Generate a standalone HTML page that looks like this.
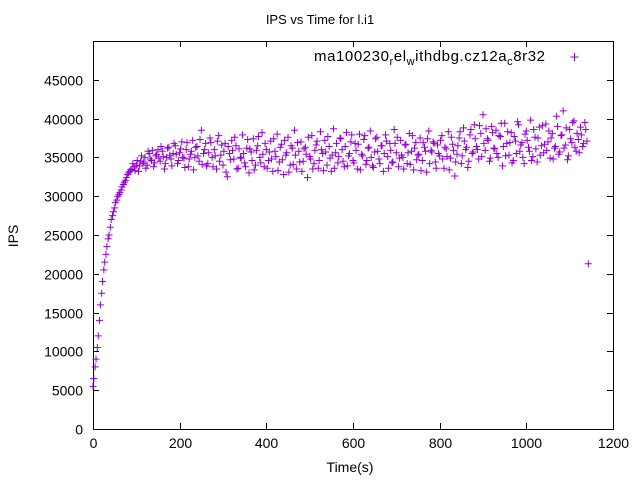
<!DOCTYPE html>
<html><head><meta charset="utf-8"><style>
body{margin:0;background:#fff}
svg{display:block;font-family:"Liberation Sans",sans-serif}
</style></head><body>
<svg id="chart" width="640" height="480" xmlns="http://www.w3.org/2000/svg">
<rect width="640" height="480" fill="#fff"/>
<text x="320" y="24" font-size="13" text-anchor="middle">IPS vs Time for l.i1</text>
<text transform="translate(18,236) rotate(-90)" font-size="14" text-anchor="middle">IPS</text>
<text x="350" y="472" font-size="14" text-anchor="middle">Time(s)</text>
<g id="axes"></g>
<g id="pts"></g>
<g>
<text x="314" y="61" font-size="15" textLength="231" lengthAdjust="spacing">ma100230<tspan font-size="11" dy="4">r</tspan><tspan dy="-4">el</tspan><tspan font-size="11" dy="4">w</tspan><tspan dy="-4">ithdbg.cz12a</tspan><tspan font-size="11" dy="4">c</tspan><tspan dy="-4">8r32</tspan></text>
<path d="M570.5,57h8M574.5,53v8" stroke="#9400d3" stroke-width="1"/>
</g>
</svg>
<script>
const xTicks=[0,200,400,600,800,1000,1200];
const yTicks=[0,5000,10000,15000,20000,25000,30000,35000,40000,45000];
const times=[0,5,10,15,20,25,30,35,40,45,50,55,60,65,70,75,80,85,90,95,100,105,110,115,120,125,130,135,140,145,150,155,160,165,170,175,180,185,190,195,200,205,210,215,220,225,230,235,240,245,250,255,260,265,270,275,280,285,290,295,300,305,310,315,320,325,330,335,340,345,350,355,360,365,370,375,380,385,390,395,400,405,410,415,420,425,430,435,440,445,450,455,460,465,470,475,480,485,490,495,500,505,510,515,520,525,530,535,540,545,550,555,560,565,570,575,580,585,590,595,600,605,610,615,620,625,630,635,640,645,650,655,660,665,670,675,680,685,690,695,700,705,710,715,720,725,730,735,740,745,750,755,760,765,770,775,780,785,790,795,800,805,810,815,820,825,830,835,840,845,850,855,860,865,870,875,880,885,890,895,900,905,910,915,920,925,930,935,940,945,950,955,960,965,970,975,980,985,990,995,1000,1005,1010,1015,1020,1025,1030,1035,1040,1045,1050,1055,1060,1065,1070,1075,1080,1085,1090,1095,1100,1105,1110,1115,1120,1125,1130,1135,1140,1143];
const ipsK=[5.5,8,10.5,14,17.5,20.5,22.5,24.5,26,27.5,28.5,29.5,30.2,30.8,31.5,32,32.8,33.2,33.5,33.8,34,33.2,34.5,34.2,35,34,35.5,34.6,33.8,35.2,36,34.5,35.8,33.5,35,36.3,34.8,35.5,36.5,34.2,35.6,37,34.9,36,33.8,35.4,37.2,35,36.4,34.5,38.5,35.5,36.8,34.2,37.5,35,36,33.5,37.8,35.3,34,36.8,32.5,35.5,37.2,34.8,36.5,33.6,35,37.9,34.3,36.2,33,35.7,37.4,34,36.5,35,38.2,33.8,36,34.6,37.1,33.2,35.8,38,34.4,36.7,32.8,35.3,37.6,34,36.2,38.5,33.5,35.8,37,34.5,36.3,32.4,35.1,37.8,34.2,36.6,33.6,38.3,35.5,37.2,34,36.4,33.2,38.7,35.6,34.3,37.5,36,33.8,38.2,35.2,37,34.6,36.8,33.5,38,35.4,37.3,34.1,36.2,38.4,33.9,35.7,37.6,34.8,36.5,33.2,37.9,35.1,36.8,34.3,38.6,35.6,33.8,37.2,35,36.6,34.2,38.1,35.8,33.4,36.9,35.3,37.5,34.6,36.3,33.1,38.4,35.9,37,34.4,36.6,35.2,37.8,33.6,36.1,38.3,34.9,36.7,32.6,35.4,37.5,34.2,38.8,36,33.7,37.9,35.5,39.2,36.4,34.8,38.1,40.5,35.9,37.4,34.5,39,36.2,38.5,35,37.7,33.9,39.4,36.8,35.3,38.2,34.6,37.1,39.6,35.8,36.9,34.2,38.4,36.3,39.8,35.1,37.6,34.4,38.9,36.5,35.6,39.3,37,34.9,38.1,36.2,40.3,35.4,37.8,41,36.6,34.7,38.6,36.9,39.7,35.8,37.3,38.9,36.4,39.5,37.1,21.3];
const times2=[2,7,12,17,22,27,32,37,42,47,52,57,62,67,72,77,82,87,92,97,102,107,112,117,122,127,132,137,142,147,152,157,162,167,172,177,182,187,192,197,202,207,212,217,222,227,232,237,242,247,252,257,262,267,272,277,282,287,292,297,302,307,312,317,322,327,332,337,342,347,352,357,362,367,372,377,382,387,392,397,402,407,412,417,422,427,432,437,442,447,452,457,462,467,472,477,482,487,492,497,502,507,512,517,522,527,532,537,542,547,552,557,562,567,572,577,582,587,592,597,602,607,612,617,622,627,632,637,642,647,652,657,662,667,672,677,682,687,692,697,702,707,712,717,722,727,732,737,742,747,752,757,762,767,772,777,782,787,792,797,802,807,812,817,822,827,832,837,842,847,852,857,862,867,872,877,882,887,892,897,902,907,912,917,922,927,932,937,942,947,952,957,962,967,972,977,982,987,992,997,1002,1007,1012,1017,1022,1027,1032,1037,1042,1047,1052,1057,1062,1067,1072,1077,1082,1087,1092,1097,1102,1107,1112,1117,1122,1127,1132,1137];
const ipsK2=[6.5,9,12,16,19,21.5,23.5,25,27,28,29.2,30,30.5,31.2,31.8,32.4,33,33.4,34.2,33.3,34.6,33.9,35.2,34.4,33.6,35.8,34.8,35.9,34.3,35.4,34.9,36.4,35.1,34.2,36.2,35.3,33.9,36.8,35.4,34.6,36.1,35,33.7,36.9,34.8,35.8,33.4,36.3,35.2,37.3,34.1,36,33.9,35.6,36.9,33.8,35.2,37.1,34.5,36.6,35.8,33.1,36.4,34.7,35.9,37.6,33.5,36.1,34.9,35.5,33.8,37.3,36.1,34.6,33.4,35.9,37.7,34.3,35.4,36.8,33.6,35.7,34.8,37.4,35.1,33.3,36.3,34.7,37.2,35.6,33.1,36.5,34.1,35.3,36.9,34.4,33.2,36.1,35.4,37.6,34.8,33.5,35.9,37.1,34.6,36,33.3,35.7,37.7,34.9,35.3,33.6,36.8,35.1,37.4,34.5,36.4,33.9,35.5,37.9,34.3,35.9,36.7,33.4,35.2,37.8,34.6,36.3,35,33.7,37.4,35.8,34.2,36.5,35.5,37.1,33.6,35.9,34.4,36.8,37.6,34.9,35.3,33.5,36.7,35.6,34.1,37.8,36.2,34.7,35.4,33.3,36.9,35.8,37.4,34.2,35.7,36.8,33.6,35.5,37.2,34.8,36.3,35.1,33.4,37.6,35.9,34.4,36.5,38.3,35.2,37.1,36.3,34.5,38.6,35.7,37.4,36,39.1,35.1,36.8,38.7,37.2,34.9,38.2,36.1,35.5,37.8,39.4,36.4,35.2,38.3,36.9,34.3,37.7,35.5,39.2,36.6,35,38,37.2,35.8,34.6,38.6,36.1,37.5,35.3,39.1,36.7,35.9,38.4,37.5,34.8,36.4,39,35.7,37.9,36.2,38.8,35.2,37.4,39.5,36.3,38.1,35.6,37.9,36.8,38.6,36.1];
const NS="http://www.w3.org/2000/svg";
const L=93,R=613,T=41,B=429;
const xs=v=>L+(v-0)/1200*(R-L);
const ys=v=>B-(v/50000)*(B-T);
const axes=document.getElementById('axes');
const pts=document.getElementById('pts');
function mk(tag,attrs,parent){const e=document.createElementNS(NS,tag);for(const k in attrs)e.setAttribute(k,attrs[k]);parent.appendChild(e);return e;}
const frame=mk('rect',{x:L+0.5,y:T+0.5,width:R-L,height:B-T,fill:'none',stroke:'#000','stroke-width':1},axes);


xTicks.forEach(v=>{const x=Math.round(xs(v))+0.5;
 const t=mk('path',{d:`M${x},${B}v-6M${x},${T}v6`,stroke:'#000'},axes);
 
 
 const l=mk('text',{x:x,y:B+19,'font-size':14,'text-anchor':'middle'},axes);l.textContent=v;
 
 });
yTicks.forEach(v=>{const y=Math.round(ys(v))+0.5;
 const t=mk('path',{d:`M${L},${y}h6M${R},${y}h-6`,stroke:'#000'},axes);
 
 
 const l=mk('text',{x:L-10,y:y+5,'font-size':14,'text-anchor':'end'},axes);l.textContent=v;
 
 });
function plot(ts,vs){ts.forEach((t,i)=>{const x=xs(t),y=ys(vs[i]*1000);
 const p=mk('path',{d:`M${x-3.5},${y}h7M${x},${y-3.5}v7`,stroke:'#9400d3','stroke-width':1},pts);
 
 });}
plot(times,ipsK);
plot(times2,ipsK2);
</script>
</body></html>
